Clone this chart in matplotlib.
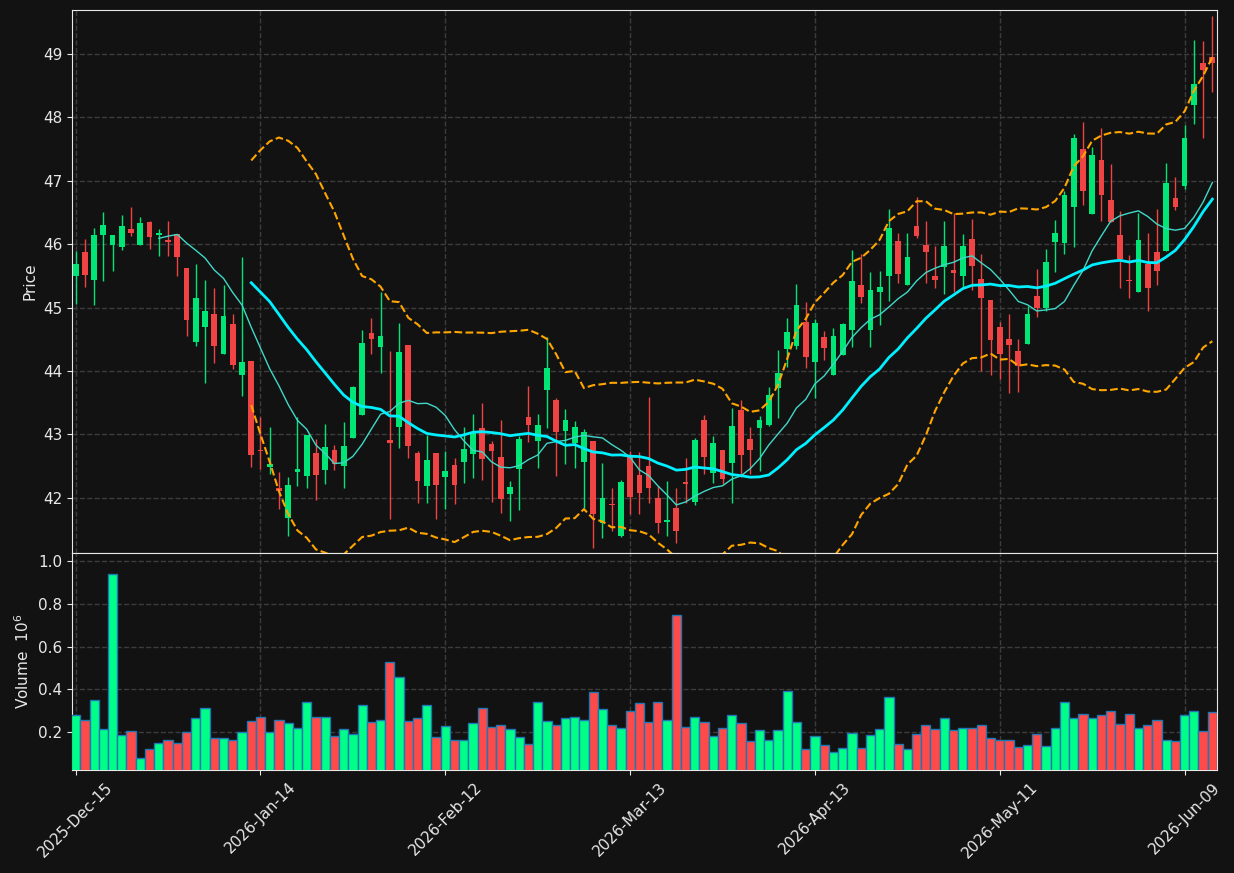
import numpy as np
import pandas as pd
import matplotlib
matplotlib.use("Agg")
import matplotlib.pyplot as plt

# daily OHLC (124 sessions)
opens = [45.49, 45.88, 45.43, 46.14, 45.99, 45.95, 46.24, 45.99, 46.35, 46.14,
         46.07, 46.16, 45.62, 44.45, 44.70, 44.90, 44.26, 44.74, 43.93, 44.16,
         42.76, 42.49, 42.16, 41.68, 42.41, 42.34, 42.70, 42.44, 42.75, 42.50,
         42.94, 43.31, 44.60, 44.38, 42.91, 43.12, 44.41, 42.70, 42.19, 42.70,
         42.33, 42.51, 42.57, 42.69, 43.10, 42.85, 42.65, 42.06, 42.46, 43.27,
         42.89, 43.70, 43.54, 43.06, 42.87, 42.56, 42.90, 41.60, 41.90, 41.40,
         42.65, 42.36, 42.50, 42.00, 41.62, 41.84, 42.25, 41.93, 43.22, 42.39,
         42.76, 42.55, 43.39, 42.92, 43.10, 43.15, 43.73, 44.34, 44.39, 44.77,
         44.14, 44.53, 43.94, 44.25, 44.65, 45.36, 44.65, 45.24, 45.49, 46.05,
         45.36, 46.29, 45.99, 45.50, 45.64, 45.59, 45.49, 46.08, 45.45, 45.12,
         44.69, 44.51, 44.32, 44.42, 45.18, 44.99, 46.03, 46.02, 46.58, 47.50,
         46.48, 47.33, 46.70, 46.14, 45.44, 45.24, 45.68, 45.88, 45.89, 46.73,
         46.91, 48.19, 48.85, 48.95]
highs = [45.89, 46.08, 46.25, 46.50, 46.15, 46.46, 46.58, 46.43, 46.37, 46.23,
         46.37, 46.16, 45.62, 45.69, 45.44, 45.31, 45.35, 44.90, 45.79, 44.16,
         43.27, 43.12, 42.40, 42.32, 43.28, 42.99, 42.93, 43.17, 42.83, 43.20,
         43.76, 44.65, 44.84, 45.24, 44.32, 44.75, 44.41, 42.74, 42.99, 42.70,
         42.74, 42.62, 43.11, 43.32, 43.49, 42.89, 43.23, 42.26, 42.97, 43.76,
         43.32, 44.54, 43.57, 43.40, 43.21, 43.08, 42.90, 42.55, 42.15, 42.28,
         42.73, 42.72, 43.59, 42.18, 42.27, 42.16, 42.62, 42.95, 43.31, 42.98,
         42.76, 43.41, 43.54, 43.12, 43.29, 43.75, 44.33, 44.84, 45.37, 45.09,
         44.82, 44.63, 44.67, 44.75, 45.91, 45.84, 45.56, 45.58, 46.55, 46.17,
         46.17, 46.75, 46.36, 45.97, 46.36, 46.49, 46.16, 46.39, 45.84, 45.12,
         44.77, 44.90, 44.50, 45.02, 45.60, 45.92, 46.38, 46.83, 47.74, 47.93,
         47.53, 47.83, 47.27, 46.52, 45.83, 46.49, 46.18, 46.56, 47.28, 47.06,
         47.88, 49.22, 49.20, 49.60]
lows = [45.05, 45.32, 45.04, 45.42, 45.57, 45.91, 46.12, 45.99, 45.92, 45.81,
        45.81, 45.50, 44.55, 44.40, 43.81, 44.12, 44.26, 44.03, 43.61, 42.49,
        42.46, 42.37, 41.83, 41.40, 42.18, 42.15, 41.96, 42.21, 42.44, 42.16,
        42.94, 43.31, 44.27, 43.97, 41.67, 42.78, 42.62, 41.91, 41.91, 41.67,
        41.82, 41.90, 42.23, 42.31, 42.28, 41.94, 41.76, 41.63, 41.80, 42.88,
        42.47, 43.10, 42.35, 42.54, 42.47, 41.84, 41.21, 41.36, 41.47, 41.38,
        41.74, 41.74, 41.92, 41.45, 41.39, 41.29, 41.92, 41.88, 42.38, 42.24,
        42.21, 41.92, 42.32, 42.38, 42.43, 43.13, 43.26, 44.06, 44.35, 44.05,
        43.57, 44.17, 43.94, 44.25, 44.38, 45.07, 44.37, 44.72, 45.11, 45.39,
        45.36, 46.09, 45.38, 45.31, 45.21, 45.24, 45.32, 45.28, 44.00, 43.93,
        43.88, 43.65, 43.66, 44.42, 44.85, 44.95, 45.56, 45.85, 45.96, 46.61,
        46.48, 46.36, 46.35, 45.31, 45.15, 45.24, 44.95, 45.35, 45.89, 46.53,
        46.87, 47.90, 47.67, 48.39]
closes = [45.69, 45.52, 46.15, 46.30, 46.15, 46.29, 46.18, 46.34, 46.11, 46.18,
          46.03, 45.79, 44.80, 45.15, 44.94, 44.39, 44.87, 44.10, 44.14, 42.68,
          42.74, 42.53, 42.11, 42.20, 42.45, 42.99, 42.36, 42.80, 42.53, 42.82,
          43.74, 44.44, 44.50, 44.55, 42.87, 44.30, 42.82, 42.27, 42.59, 42.20,
          42.43, 42.20, 42.77, 43.04, 42.61, 42.74, 41.98, 42.17, 42.93, 43.15,
          43.15, 44.05, 43.04, 43.23, 43.11, 43.03, 41.75, 42.00, 41.89, 42.25,
          42.02, 42.08, 42.15, 41.61, 41.65, 41.48, 42.21, 42.91, 42.64, 42.87,
          42.29, 43.13, 42.67, 42.75, 43.22, 43.62, 43.96, 44.62, 45.04, 44.22,
          44.75, 44.36, 44.55, 44.74, 45.42, 45.17, 45.28, 45.33, 46.26, 45.53,
          45.79, 46.12, 45.87, 45.43, 45.97, 45.55, 45.97, 45.65, 45.15, 44.49,
          44.27, 44.41, 44.07, 44.90, 44.99, 45.72, 46.18, 46.78, 47.67, 46.84,
          47.40, 46.77, 46.35, 45.76, 45.42, 46.07, 45.30, 45.57, 46.97, 46.58,
          47.68, 48.52, 48.74, 48.86]
# volume in millions
volumes = [0.282, 0.260, 0.353, 0.214, 0.940, 0.186, 0.205, 0.079, 0.121, 0.153,
           0.163, 0.149, 0.200, 0.265, 0.312, 0.174, 0.172, 0.163, 0.200, 0.251,
           0.270, 0.200, 0.260, 0.242, 0.219, 0.340, 0.270, 0.270, 0.181, 0.214,
           0.191, 0.330, 0.247, 0.256, 0.526, 0.456, 0.251, 0.265, 0.326, 0.177,
           0.228, 0.167, 0.167, 0.242, 0.312, 0.223, 0.233, 0.214, 0.177, 0.144,
           0.340, 0.251, 0.233, 0.265, 0.270, 0.256, 0.386, 0.307, 0.233, 0.219,
           0.302, 0.335, 0.247, 0.340, 0.256, 0.749, 0.223, 0.270, 0.247, 0.181,
           0.219, 0.279, 0.242, 0.158, 0.209, 0.163, 0.209, 0.391, 0.247, 0.121,
           0.181, 0.140, 0.107, 0.126, 0.195, 0.126, 0.186, 0.214, 0.363, 0.144,
           0.121, 0.191, 0.233, 0.214, 0.265, 0.209, 0.219, 0.219, 0.233, 0.172,
           0.163, 0.163, 0.130, 0.140, 0.191, 0.135, 0.219, 0.344, 0.265, 0.284,
           0.265, 0.279, 0.298, 0.237, 0.284, 0.219, 0.233, 0.256, 0.163, 0.158,
           0.279, 0.298, 0.205, 0.293]
date_labels = ['2025-Dec-15', '2026-Jan-14', '2026-Feb-12', '2026-Mar-13',
               '2026-Apr-13', '2026-May-11', '2026-Jun-09']

bg = '#121212'
up_c, dn_c = '#00e676', '#f04444'
vup_c, vdn_c = '#00ff88', '#ff4a4a'
fg = '#e8e8e8'

df = pd.DataFrame({'o': opens, 'h': highs, 'l': lows, 'c': closes, 'v': volumes})
x = np.arange(len(df))
sma10 = df['c'].rolling(10).mean()
sma20 = df['c'].rolling(20).mean()
std20 = df['c'].rolling(20).std(ddof=0)
bb_up = sma20 + 2 * std20
bb_lo = sma20 - 2 * std20

up = df['c'] >= df['o']

fig = plt.figure(figsize=(12.34, 8.73), dpi=100, facecolor=bg)
ax = fig.add_axes([0.0583, 0.3666, 0.9279, 0.6219], facecolor=bg)
axv = fig.add_axes([0.0583, 0.118, 0.9279, 0.2486], facecolor=bg, sharex=ax)

# candles
cols = np.where(up, up_c, dn_c)
ax.vlines(x, df['l'], df['h'], colors=cols, linewidth=1, zorder=2)
body_lo = np.minimum(df['o'], df['c'])
body_h = np.maximum(np.abs(df['c'] - df['o']), 0.012)
ax.bar(x, body_h, bottom=body_lo, width=0.62, color=cols, linewidth=0, zorder=3)

ax.plot(x, sma10, color='#40d8c8', linewidth=1, zorder=4)
ax.plot(x, sma20, color='#00f0ff', linewidth=2, zorder=4)
ax.plot(x, bb_up, color='#ffa500', linewidth=1.5, linestyle='--', zorder=4)
ax.plot(x, bb_lo, color='#ffa500', linewidth=1.5, linestyle='--', zorder=4)

ax.set_ylim(41.13, 49.69)
ax.set_yticks(range(42, 50))
ax.set_ylabel('Price', color=fg, fontsize=11)

# volume
vcols = np.where(up, vup_c, vdn_c)
axv.bar(x, df['v'], width=1.0, color=vcols, edgecolor='#1f77b4', linewidth=1, zorder=3)
axv.set_ylim(0.025, 1.036)
axv.set_yticks([0.2, 0.4, 0.6, 0.8, 1.0])
axv.set_ylabel('Volume  $10^6$', color=fg, fontsize=11)

axv.set_xlim(-0.4, 123.5)
axv.set_xticks(range(0, 121, 20))
axv.set_xticklabels(date_labels, rotation=45)
plt.setp(ax.get_xticklabels(), visible=False)

for a in (ax, axv):
    a.grid(True, color='#3c3c3c', linestyle='--', linewidth=1)
    a.set_axisbelow(True)
    a.tick_params(colors=fg, labelsize=11)
    for s in a.spines.values():
        s.set_color(fg)

fig.savefig('out.png', dpi=100, facecolor=bg)
